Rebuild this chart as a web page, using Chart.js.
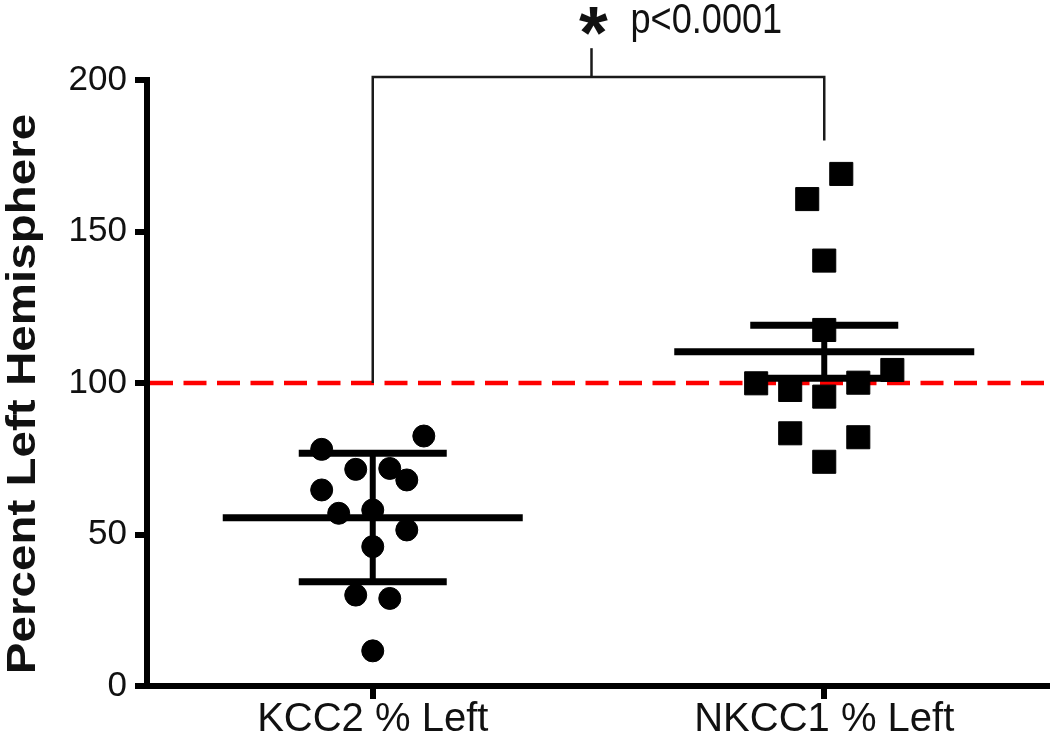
<!DOCTYPE html>
<html>
<head>
<meta charset="utf-8">
<title>KCC2 / NKCC1 % Left</title>
<script src="https://cdn.jsdelivr.net/npm/chart.js@4.4.0/dist/chart.umd.min.js"></script>
<style>
    html, body { margin: 0; padding: 0; background: #fff; }
    #wrap { width: 1050px; height: 738px; position: relative; }
</style>
</head>
<body>
<div id="wrap"><canvas id="dotChart"></canvas></div>
<script>
// Dados
const categories = ['KCC2 % Left', 'NKCC1 % Left'];
const kccValues = [78.1, 82.5, 71.5, 71.8, 68.0, 64.7, 57.0, 58.1, 51.5, 46.0, 30.0, 28.9, 11.6];
const kccCols   = [-3, 3, -1, 1, 2, -3, -2, 0, 2, 0, -1, 1, 0];
const nkccValues = [169.0, 160.7, 140.4, 117.5, 104.3, 99.9, 100.1, 97.7, 95.5, 83.4, 82.1, 74.0];
const nkccCols   = [1, -1, 0, 0, 4, -4, 2, -2, 0, -2, 2, 0];
const groupMean = [55.5, 110.3];
const groupHigh = [76.8, 119.1];
const groupLow  = [34.4, 101.6];
const yTicks = [0, 50, 100, 150, 200];
const referenceLevel = 100;
const bracketLegs = [100, 180];   // onde cada perna do colchete termina
const bracketTop = 201;
const bracketStem = 210.5;
const starLabel = '*';
const pLabel = 'p<0.0001';
const yTitle = 'Percent Left Hemisphere';

const COL_STEP = 0.0377;   // deslocamento horizontal entre pontos lado a lado
const FONT = '"Liberation Sans", Arial, sans-serif';

function toPoints(values, cols, groupIndex) {
    return values.map((v, i) => ({ x: groupIndex + 1 + cols[i] * COL_STEP, y: v }));
}

function line(ctx, x1, y1, x2, y2) {
    ctx.beginPath();
    ctx.moveTo(x1, y1);
    ctx.lineTo(x2, y2);
    ctx.stroke();
}

const overlayPlugin = {
    id: 'overlay',
    beforeDatasetsDraw(chart) {
        const { ctx, chartArea, scales: { x, y } } = chart;
        ctx.save();

        // linha tracejada vermelha em 100%
        const ry = y.getPixelForValue(referenceLevel);
        ctx.strokeStyle = '#ff0000';
        ctx.lineWidth = 4.5;
        ctx.setLineDash([23, 10.5]);
        line(ctx, chartArea.left + 3, ry, chartArea.right, ry);
        ctx.setLineDash([]);

        // colchete de significância
        const xl = x.getPixelForValue(1);
        const xr = x.getPixelForValue(2);
        const top = y.getPixelForValue(bracketTop);
        ctx.strokeStyle = '#1a1a1a';
        ctx.lineWidth = 2.5;
        ctx.beginPath();
        ctx.moveTo(xl, y.getPixelForValue(bracketLegs[0]));
        ctx.lineTo(xl, top);
        ctx.lineTo(xr, top);
        ctx.lineTo(xr, y.getPixelForValue(bracketLegs[1]));
        ctx.stroke();
        // haste um pouco à esquerda do centro, como no original
        const sx = (xl + xr) / 2 - 7;
        line(ctx, sx, top, sx, y.getPixelForValue(bracketStem));
        ctx.restore();
    },
    afterDatasetsDraw(chart) {
        const { ctx, scales: { x, y } } = chart;
        ctx.save();
        ctx.strokeStyle = '#000';
        groupMean.forEach((m, i) => {
            const cx = x.getPixelForValue(i + 1);
            const yHi = y.getPixelForValue(groupHigh[i]);
            const yLo = y.getPixelForValue(groupLow[i]);
            ctx.lineWidth = 6;
            line(ctx, cx, yHi, cx, yLo);
            ctx.lineWidth = 7;
            line(ctx, cx - 150, y.getPixelForValue(m), cx + 150, y.getPixelForValue(m));
            line(ctx, cx - 74, yHi, cx + 74, yHi);
            line(ctx, cx - 74, yLo, cx + 74, yLo);
        });
        ctx.restore();
    },
    afterDraw(chart) {
        const { ctx, scales: { x, y } } = chart;
        ctx.save();
        ctx.fillStyle = '#111';

        // título do eixo Y (texto um pouco esticado como no original)
        ctx.save();
        ctx.translate(35, 394);
        ctx.rotate(-Math.PI / 2);
        ctx.scale(1.16, 1);
        ctx.font = 'bold 41px ' + FONT;
        ctx.textAlign = 'center';
        ctx.textBaseline = 'alphabetic';
        ctx.fillText(yTitle, 0, 0);
        ctx.restore();

        // asterisco e valor de p
        const sx = (x.getPixelForValue(1) + x.getPixelForValue(2)) / 2 - 7;
        const stemTop = y.getPixelForValue(bracketStem);
        ctx.font = 'bold 74px ' + FONT;
        ctx.textAlign = 'center';
        ctx.textBaseline = 'alphabetic';
        ctx.fillText(starLabel, sx + 2, stemTop + 10);

        ctx.save();
        ctx.translate(sx + 39, stemTop - 15);
        ctx.scale(0.86, 1);
        ctx.font = '42px ' + FONT;
        ctx.textAlign = 'left';
        ctx.fillText(pLabel, 0, 0);
        ctx.restore();

        ctx.restore();
    }
};

function initializeChart() {
    const ctx = document.getElementById('dotChart').getContext('2d');
    new Chart(ctx, {
        type: 'scatter',
        data: {
            datasets: [{
                label: categories[0],
                data: toPoints(kccValues, kccCols, 0),
                pointStyle: 'circle',
                pointRadius: 11,
                backgroundColor: '#000',
                borderColor: '#000',
                borderWidth: 1
            }, {
                label: categories[1],
                data: toPoints(nkccValues, nkccCols, 1),
                pointStyle: 'rect',
                pointRadius: 16.3,
                backgroundColor: '#000',
                borderColor: '#000',
                borderWidth: 1
            }]
        },
        options: {
            responsive: true,
            maintainAspectRatio: false,
            animation: false,
            layout: { autoPadding: false, padding: { top: 80, right: 0, bottom: 0, left: 0 } },
            plugins: { legend: { display: false }, tooltip: { enabled: false } },
            scales: {
                x: {
                    type: 'linear', min: 0.5, max: 2.5,
                    afterBuildTicks: s => { s.ticks = categories.map((_, i) => ({ value: i + 1 })); },
                    afterFit: s => { s.height = 52; },
                    ticks: {
                        callback: v => categories[v - 1],
                        font: { family: FONT, size: 40 },
                        color: '#111', padding: -3, maxRotation: 0, autoSkip: false
                    },
                    grid: { drawOnChartArea: false, drawTicks: true, tickLength: 13, lineWidth: 6, color: '#000' },
                    border: { display: true, width: 6, color: '#000' }
                },
                y: {
                    min: 0, max: 200,
                    afterBuildTicks: s => { s.ticks = yTicks.map(v => ({ value: v })); },
                    afterFit: s => { s.width = 147; },
                    ticks: { font: { family: FONT, size: 35 }, color: '#111', padding: 8 },
                    grid: { drawOnChartArea: false, drawTicks: true, tickLength: 12, lineWidth: 6, color: '#000' },
                    border: { display: true, width: 6, color: '#000' }
                }
            }
        },
        plugins: [overlayPlugin]
    });
}

document.addEventListener('DOMContentLoaded', initializeChart);
</script>
</body>
</html>
